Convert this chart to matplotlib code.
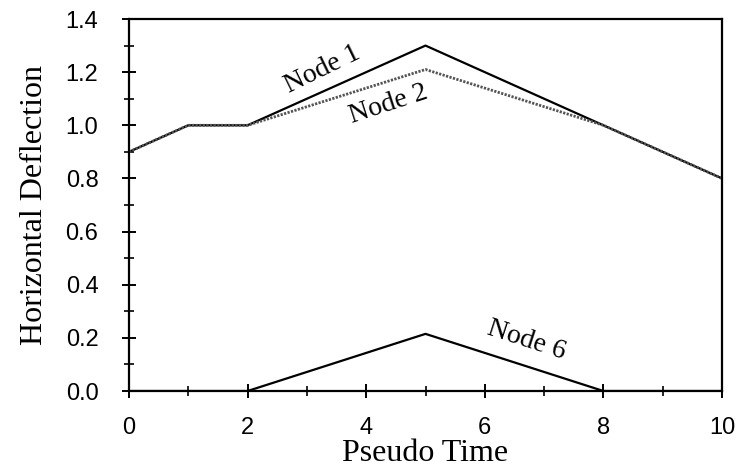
import matplotlib
matplotlib.use("Agg")
import matplotlib.pyplot as plt
from matplotlib.ticker import MultipleLocator

time = [0, 1, 2, 5, 8, 10]
node1 = [0.9, 1.0, 1.0, 1.30, 1.0, 0.8]
node2 = [0.9, 1.0, 1.0, 1.21, 1.0, 0.8]
node6 = [0.0, 0.0, 0.0, 0.215, 0.0, 0.0]
yticks = [0, 0.2, 0.4, 0.6, 0.8, 1.0, 1.2, 1.4]
ytick_labels = ["0.0", "0.2", "0.4", "0.6", "0.8", "1.0", "1.2", "1.4"]

fig = plt.figure(figsize=(7.37, 4.76), dpi=100)
ax = fig.add_axes([129 / 737, 1 - 391 / 476, (722 - 129) / 737, (391 - 19) / 476])

ax.plot(time, node1, color="black", lw=1.6)
ax.plot(time, node2, color="#555555", lw=2.0, linestyle=(0, (0.8, 0.5)))
ax.plot(time, node6, color="black", lw=1.6)

ax.set_xlim(0, 10)
ax.set_ylim(0, 1.4)
ax.xaxis.set_major_locator(MultipleLocator(2))
ax.xaxis.set_minor_locator(MultipleLocator(1))
ax.set_yticks(yticks)
ax.set_yticklabels(ytick_labels)
ax.yaxis.set_minor_locator(MultipleLocator(0.1))
ax.tick_params(which="major", direction="inout", length=10, width=1.4,
               labelsize=17)
ax.tick_params(axis="y", which="major", pad=17)
ax.tick_params(axis="x", which="major", pad=14)
ax.tick_params(which="minor", direction="inout", length=7, width=1.2)
for lab in ax.get_xticklabels() + ax.get_yticklabels():
    lab.set_family("Liberation Sans")
for s in ax.spines.values():
    s.set_linewidth(1.6)

ax.set_xlabel("Pseudo Time", family="Liberation Serif", fontsize=23, labelpad=0)
ax.set_ylabel("Horizontal Deflection", family="Liberation Serif", fontsize=23, labelpad=12)

ax.text(3.27, 1.21, "Node 1", family="Liberation Serif", fontsize=20,
        rotation=26, ha="center", va="center")
ax.text(4.38, 1.08, "Node 2", family="Liberation Serif", fontsize=20,
        rotation=18, ha="center", va="center")
ax.text(6.71, 0.19, "Node 6", family="Liberation Serif", fontsize=20,
        rotation=-18, ha="center", va="center")

fig.savefig("out.png", dpi=100)
